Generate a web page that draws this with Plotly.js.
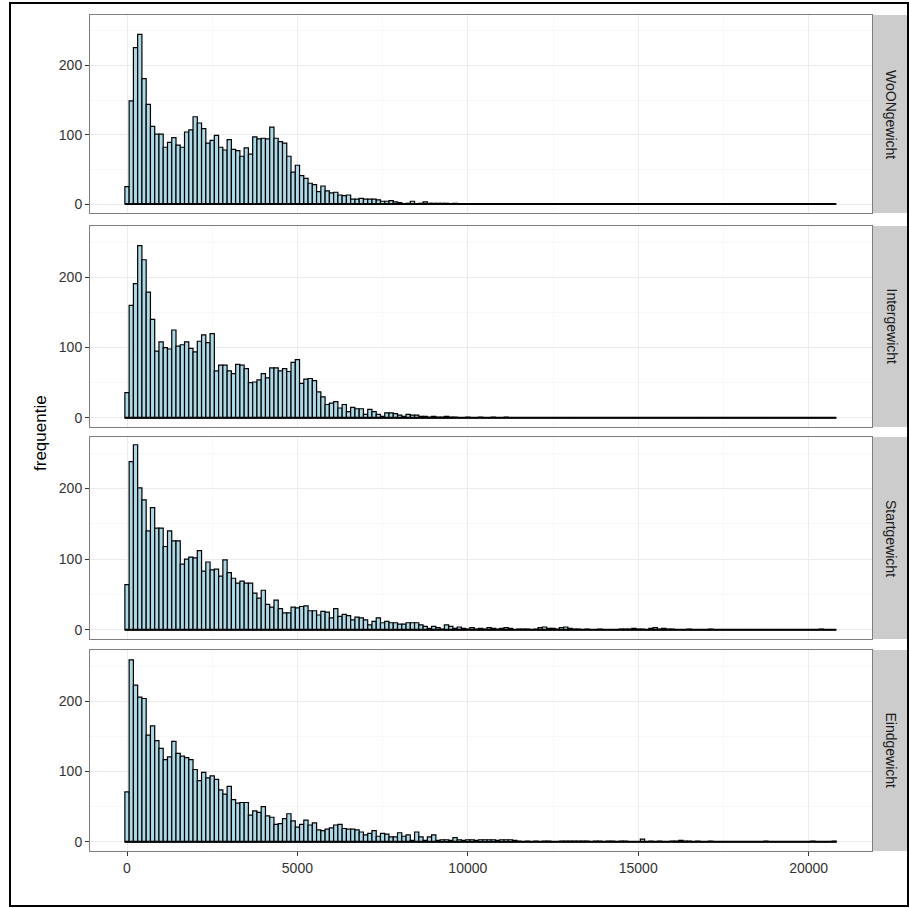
<!DOCTYPE html>
<html><head><meta charset="utf-8">
<script src="https://cdn.plot.ly/plotly-3.0.1.min.js"></script>
<style>html,body{margin:0;padding:0;background:#fff}</style>
</head><body><div id="chart" style="width:909px;height:908px"></div>
<script>
// Histogram bins: width 125, bin k centered at k*125 (k = 0..166)
const binWidth = 125;
const panelNames = ["WoONgewicht", "Intergewicht", "Startgewicht", "Eindgewicht"];
const xTickVals = [0, 5000, 10000, 15000, 20000];
const xTickText = ["0", "5000", "10000", "15000", "20000"];
const yTickVals = [0, 100, 200];
const yTickText = ["0", "100", "200"];
const yTitle = "frequentie";

const woonCounts = [
  25,149,226,245,181,144,112,101,101,82,
  89,96,85,82,104,107,126,117,109,88,
  92,99,82,78,93,79,77,69,81,72,
  97,94,95,94,111,95,90,88,69,46,
  56,41,37,30,28,18,26,19,16,17,
  13,12,13,7,7,8,7,7,7,6,
  4,4,5,3,2,0,1,4,0,1,
  3,1,1,1,1,1,0,1,0,0,
  0,0,0,0,0,0,0,0,0,0,
  0,0,0,0,0,0,0,0,0,0,
  0,0,0,0,0,0,0,0,0,0,
  0,0,0,0,0,0,0,0,0,0,
  0,0,0,0,0,0,0,0,0,0,
  0,0,0,0,0,0,0,0,0,0,
  0,0,0,0,0,0,0,0,0,0,
  0,0,0,0,0,0,0,0,0,0,
  0,0,0,0,0,0,0
];
const interCounts = [
  36,160,191,245,225,179,140,95,108,100,
  98,125,102,104,108,99,94,109,118,107,
  120,67,75,75,67,63,76,75,70,50,
  51,54,63,57,71,71,67,70,66,79,
  83,49,55,56,53,37,30,19,21,23,
  14,19,9,15,13,13,5,12,9,5,
  2,7,7,6,4,2,5,4,4,2,
  2,1,2,1,1,2,1,1,0,0,
  1,0,0,1,0,0,1,0,0,1,
  0,0,0,0,0,0,0,0,0,0,
  0,0,0,0,0,0,0,0,0,0,
  0,0,0,0,0,0,0,0,0,0,
  0,0,0,0,0,0,0,0,0,0,
  0,0,0,0,0,0,0,0,0,0,
  0,0,0,0,0,0,0,0,0,0,
  0,0,0,0,0,0,0,0,0,0,
  0,0,0,0,0,0,0
];
const startCounts = [
  64,238,262,201,184,140,173,144,144,118,
  140,126,126,93,100,103,102,112,83,96,
  85,86,76,99,81,73,66,69,66,66,
  52,45,56,36,32,42,30,24,24,32,
  31,33,34,27,27,21,26,25,17,30,
  19,22,20,14,18,17,14,7,12,17,
  10,12,10,10,8,8,10,10,10,7,
  5,2,5,3,1,7,5,2,4,2,
  1,3,1,2,1,3,2,1,2,3,
  2,0,1,1,1,0,1,3,4,2,
  2,1,3,4,2,1,1,0,1,0,
  0,1,0,0,0,0,1,1,1,2,
  1,1,0,2,3,1,2,1,1,0,
  0,0,1,0,0,0,0,1,0,0,
  0,0,0,0,0,0,0,0,0,0,
  0,0,0,0,0,0,0,0,0,0,
  0,0,0,1,0,0,0
];
const eindCounts = [
  71,259,223,206,204,152,165,144,133,117,
  121,143,126,122,120,117,103,87,99,91,
  94,89,74,68,79,60,55,56,56,38,
  44,42,50,37,35,25,26,33,40,30,
  21,25,31,24,27,17,16,18,20,24,
  25,19,18,18,17,14,10,12,16,8,
  12,11,7,7,13,8,10,2,14,7,
  2,7,10,2,3,3,2,6,3,2,
  3,3,2,3,3,3,3,2,3,3,
  3,2,1,0,1,0,1,0,1,1,
  0,0,1,1,1,1,1,1,1,0,
  1,1,0,1,1,0,1,1,0,0,
  0,4,0,1,0,1,0,0,1,1,
  2,1,1,0,1,0,0,1,0,0,
  0,0,0,0,0,0,0,0,0,0,
  1,0,0,0,0,0,0,0,0,0,
  0,1,0,0,0,0,1
];

const allCounts = [woonCounts, interCounts, startCounts, eindCounts];
const binCenters = woonCounts.map((_, k) => k * binWidth);

// layout geometry (pixels of the 909x908 page)
const W = 909, H = 908;
const mL = 90, mR = 37, mT = 15, mB = 57;
const plotW = W - mL - mR, plotH = H - mT - mB;
const panelPx = [[15, 213], [226, 427], [437, 639], [650, 851]];
const toPY = py => (H - mB - py) / plotH;
const toPX = px => (px - mL) / plotW;

const traces = [];
const layout = {
  width: W, height: H,
  margin: {l: mL, r: mR, t: mT, b: mB, pad: 0},
  paper_bgcolor: "#ffffff", plot_bgcolor: "#ffffff",
  showlegend: false, bargap: 0,
  font: {family: "Liberation Sans, Arial, sans-serif", color: "#333333", size: 14},
  annotations: [], shapes: []
};

allCounts.forEach((counts, i) => {
  const ax = i === 0 ? "" : String(i + 1);
  traces.push({
    type: "bar", x: binCenters, y: counts, width: binWidth,
    xaxis: "x" + ax, yaxis: "y" + ax,
    marker: {color: "#ADD8E6", line: {color: "#000000", width: 1.2}},
    hoverinfo: "x+y"
  });
  traces.push({
    type: "scatter", mode: "lines",
    x: [binCenters[0] - binWidth / 2, binCenters[binCenters.length - 1] + binWidth / 2],
    y: [0, 0], xaxis: "x" + ax, yaxis: "y" + ax,
    line: {color: "#000000", width: 2}, hoverinfo: "skip"
  });
  const d0 = toPY(panelPx[i][1]), d1 = toPY(panelPx[i][0]);
  const isBottom = i === 3;
  layout["xaxis" + ax] = {
    anchor: "y" + ax, domain: [0, 1], range: [-1086, 21860],
    tickvals: xTickVals, ticktext: xTickText,
    showticklabels: isBottom, ticks: isBottom ? "outside" : "",
    ticklen: 4, tickwidth: 1, tickcolor: "#333333",
    tickfont: {size: 14, color: "#333333"},
    showgrid: true, gridcolor: "#EBEBEB", gridwidth: 1,
    minor: {dtick: 2500, tick0: 0, showgrid: true, gridcolor: "#F3F3F3", gridwidth: 0.6},
    zeroline: false, showline: true, mirror: true, linecolor: "#7F7F7F", linewidth: 1,
    fixedrange: true
  };
  layout["yaxis" + ax] = {
    anchor: "x" + ax, domain: [d0, d1], range: [-13, 273],
    tickvals: yTickVals, ticktext: yTickText,
    ticks: "outside", ticklen: 4, tickwidth: 1, tickcolor: "#333333",
    tickfont: {size: 14, color: "#333333"},
    showgrid: true, gridcolor: "#EBEBEB", gridwidth: 1,
    minor: {dtick: 50, tick0: 0, showgrid: true, gridcolor: "#F3F3F3", gridwidth: 0.6},
    zeroline: false, showline: true, mirror: true, linecolor: "#7F7F7F", linewidth: 1,
    fixedrange: true
  };
  // facet strip on the right
  layout.shapes.push({
    type: "rect", xref: "paper", yref: "paper",
    x0: toPX(873), x1: toPX(909), y0: d0, y1: d1,
    fillcolor: "#CCCCCC", line: {color: "#CCCCCC", width: 0}, layer: "below"
  });
  layout.annotations.push({
    xref: "paper", yref: "paper", x: toPX(891), y: (d0 + d1) / 2,
    text: panelNames[i], textangle: 90, showarrow: false,
    xanchor: "center", yanchor: "middle",
    font: {size: 14, color: "#1A1A1A"}
  });
});

layout.annotations.push({
  xref: "paper", yref: "paper", x: toPX(40), y: 0.5,
  text: yTitle, textangle: -90, showarrow: false,
  xanchor: "center", yanchor: "middle",
  font: {size: 17, color: "#000000"}
});
// outer frame
layout.shapes.push({
  type: "rect", xref: "paper", yref: "paper",
  x0: toPX(10), x1: toPX(908), y0: toPY(906), y1: toPY(3),
  line: {color: "#000000", width: 2}, fillcolor: "rgba(0,0,0,0)"
});

Plotly.newPlot("chart", traces, layout, {displayModeBar: false, staticPlot: true});
</script>
</body></html>
